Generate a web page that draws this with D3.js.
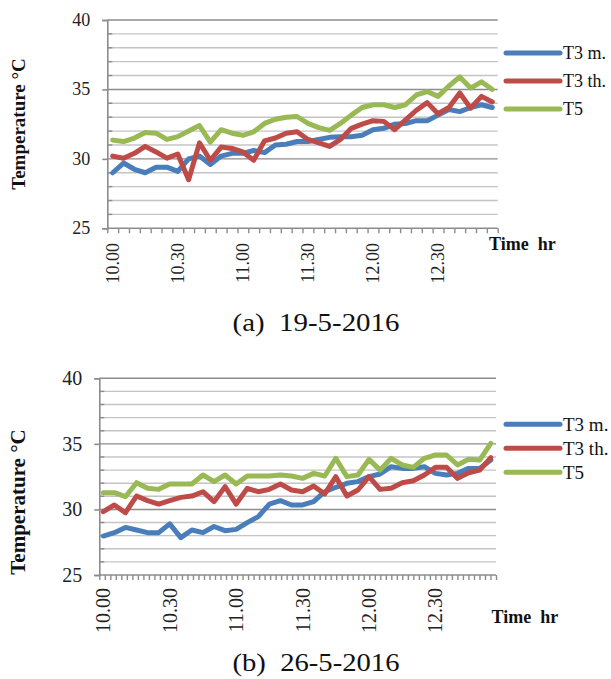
<!DOCTYPE html>
<html>
<head>
<meta charset="utf-8">
<script src="https://cdn.jsdelivr.net/npm/d3@7"></script>
<style>
html,body{margin:0;padding:0;background:#fff;}
svg{display:block;}
</style>
</head>
<body>
<svg id="c" width="611" height="679"></svg>
<script>
// ---------- data ----------
const times = ["10.00","10.05","10.10","10.15","10.20","10.25","10.30","10.35","10.40","10.45","10.50","10.55",
               "11.00","11.05","11.10","11.15","11.20","11.25","11.30","11.35","11.40","11.45","11.50","11.55",
               "12.00","12.05","12.10","12.15","12.20","12.25","12.30","12.35","12.40","12.45","12.50","12.55"];
const shownTimes = ["10.00","10.30","11.00","11.30","12.00","12.30"];
const tempTicks = [25, 30, 35, 40];
const seriesNames = ["T3 m.", "T3 th.", "T5"];
const seriesColors = ["#4A7EBB", "#BE4B48", "#98B954"];

// (a) 19-5-2016
const a_T3m  = [29.0,29.7,29.25,29.0,29.4,29.4,29.1,30.0,30.2,29.6,30.2,30.4,30.4,30.6,30.45,31.0,31.05,31.25,31.25,31.4,31.55,31.6,31.6,31.7,32.1,32.2,32.5,32.55,32.75,32.75,33.15,33.55,33.4,33.7,33.9,33.7];
const a_T3th = [30.2,30.05,30.4,30.9,30.5,30.05,30.35,28.5,31.15,29.9,30.85,30.75,30.5,29.9,31.3,31.5,31.85,31.95,31.4,31.15,30.9,31.4,32.2,32.5,32.75,32.7,32.1,32.8,33.5,34.05,33.25,33.7,34.75,33.65,34.5,34.1];
const a_T5   = [31.35,31.25,31.5,31.9,31.85,31.4,31.6,32.0,32.4,31.2,32.1,31.85,31.7,31.95,32.55,32.85,33.0,33.05,32.55,32.25,32.05,32.55,33.15,33.7,33.9,33.9,33.7,33.9,34.6,34.85,34.5,35.25,35.9,35.1,35.55,35.0];

// (b) 26-5-2016
const b_T3m  = [27.97,28.23,28.63,28.43,28.23,28.23,28.9,27.85,28.43,28.23,28.7,28.38,28.48,28.99,29.45,30.41,30.67,30.34,30.34,30.59,31.35,31.69,31.99,32.12,32.5,32.7,33.26,33.13,33.13,33.26,32.75,32.63,32.75,33.13,33.13,33.77];
const b_T3th = [29.83,30.34,29.75,31.02,30.67,30.41,30.67,30.92,31.02,31.35,30.59,31.74,30.41,31.61,31.35,31.53,31.94,31.48,31.35,31.79,31.18,32.5,31.02,31.48,32.5,31.53,31.61,32.04,32.19,32.63,33.21,33.21,32.37,32.8,33.0,33.95];
const b_T5   = [31.28,31.28,30.97,32.04,31.61,31.53,31.94,31.94,31.94,32.63,32.12,32.63,31.94,32.55,32.55,32.55,32.63,32.55,32.37,32.75,32.55,33.9,32.5,32.63,33.82,33.0,33.9,33.39,33.21,33.9,34.15,34.15,33.39,33.82,33.77,35.04];

const captions = ["(a)  19-5-2016", "(b)  26-5-2016"];
const yTitle = "Temperature °C";
const xTitle = "Time  hr";

// ---------- layout ----------
const panels = [
  {series:[a_T3m,a_T3th,a_T5], caption:captions[0],
   ax0:107.3, ax1:497.7, p0:112.7, p1:492.3, yBot:228.3, yTop:20, nTickIntervals:36,
   fs:18, titleFs:19, titleY:124, legY:53, legStep:28, legFs:18,
   xLabTop:243, timeX:489, timeY:244, capY:331},
  {series:[b_T3m,b_T3th,b_T5], caption:captions[1],
   ax0:99.3, ax1:496, p0:103.3, p1:490.8, yBot:575, yTop:378.3, nTickIntervals:72,
   fs:20, titleFs:21, titleY:502, legY:424.3, legStep:24, legFs:19,
   xLabTop:588, timeX:491.5, timeY:617, capY:671}
];

const svg = d3.select("#c");
const serif = "'Liberation Serif', 'Times New Roman', serif";

panels.forEach(P => {
  const g = svg.append("g");
  const y = d3.scaleLinear().domain([25, 40]).range([P.yBot, P.yTop]);
  const x = d3.scalePoint().domain(times).range([P.p0, P.p1]);
  const xi = d3.scaleLinear().domain([0, times.length - 1]).range([P.p0, P.p1]);

  // gridlines (every degree)
  const minor = d3.range(26, 40).filter(v => v % 5 !== 0);
  g.append("g").selectAll("line").data(minor).join("line")
    .attr("x1", P.ax0).attr("x2", P.ax1)
    .attr("y1", d => y(d)).attr("y2", d => y(d))
    .attr("stroke", "#c4c4c4").attr("stroke-width", 1.4);
  g.append("g").selectAll("line").data(tempTicks.filter(v => v > 25)).join("line")
    .attr("x1", P.ax0).attr("x2", P.ax1)
    .attr("y1", d => y(d)).attr("y2", d => y(d))
    .attr("stroke", "#8c8c8c").attr("stroke-width", 1.4);

  // minor ticks inside the y axis
  g.append("g").selectAll("line").data(minor).join("line")
    .attr("x1", P.ax0).attr("x2", P.ax0 + 5)
    .attr("y1", d => y(d)).attr("y2", d => y(d))
    .attr("stroke", "#8c8c8c").attr("stroke-width", 1.4);

  // y axis
  const yAxis = d3.axisLeft(y).tickValues(tempTicks).tickSize(5).tickFormat("");
  const ya = g.append("g").attr("transform", `translate(${P.ax0},0)`).call(yAxis);
  ya.select(".domain").attr("stroke", "#8c8c8c").attr("stroke-width", 1.6);
  ya.selectAll(".tick line").attr("stroke", "#8c8c8c").attr("stroke-width", 1.6);
  g.append("g").selectAll("text").data(tempTicks).join("text")
    .attr("x", P.ax0 - 17).attr("y", d => y(d))
    .attr("text-anchor", "end").attr("dominant-baseline", "central")
    .attr("font-family", serif).attr("font-size", P.fs).attr("fill", "#222")
    .text(d => d);

  // x axis line + tick marks
  const iStart = xi.invert(P.ax0), iEnd = xi.invert(P.ax1);
  const step = (iEnd - iStart) / P.nTickIntervals;
  const tickIdx = d3.range(P.nTickIntervals + 1).map(k => iStart + k * step);
  const xAxis = d3.axisBottom(xi).tickValues(tickIdx).tickSize(5).tickFormat("");
  const xa = g.append("g").attr("transform", `translate(0,${P.yBot})`).call(xAxis);
  xa.select(".domain").remove();
  xa.selectAll(".tick line").attr("stroke", "#8c8c8c").attr("stroke-width", 1.4);
  g.append("line").attr("x1", P.ax0).attr("x2", P.ax1)
    .attr("y1", P.yBot).attr("y2", P.yBot)
    .attr("stroke", "#8c8c8c").attr("stroke-width", 1.6);

  // x labels (rotated)
  g.append("g").selectAll("text").data(shownTimes).join("text")
    .attr("transform", d => `translate(${x(d)},${P.xLabTop}) rotate(-90)`)
    .attr("text-anchor", "end").attr("dominant-baseline", "central")
    .attr("font-family", serif).attr("font-size", P.fs).attr("fill", "#222")
    .text(d => d);

  // lines
  const line = d3.line().x((d, i) => x(times[i])).y(d => y(d));
  P.series.forEach((s, k) => {
    g.append("path").datum(s).attr("d", line)
      .attr("fill", "none").attr("stroke", seriesColors[k])
      .attr("stroke-width", 5).attr("stroke-linejoin", "round").attr("stroke-linecap", "round");
  });

  // legend
  seriesNames.forEach((n, k) => {
    const ly = P.legY + k * P.legStep;
    g.append("line").attr("x1", 506).attr("x2", 560).attr("y1", ly).attr("y2", ly)
      .attr("stroke", seriesColors[k]).attr("stroke-width", 5).attr("stroke-linecap", "round");
    g.append("text").attr("x", 563).attr("y", ly).attr("dominant-baseline", "central")
      .attr("font-family", serif).attr("font-size", P.legFs).attr("fill", "#111").text(n);
  });

  // axis titles
  g.append("text").attr("transform", `translate(18,${P.titleY}) rotate(-90)`)
    .attr("text-anchor", "middle").attr("dominant-baseline", "central")
    .attr("font-family", serif).attr("font-weight", "bold").attr("font-size", P.titleFs)
    .attr("fill", "#111").text(yTitle);
  g.append("text").attr("x", P.timeX).attr("y", P.timeY).attr("dominant-baseline", "central")
    .attr("font-family", serif).attr("font-weight", "bold").attr("font-size", 18)
    .attr("fill", "#111").style("white-space", "pre").text(xTitle);

  // caption
  g.append("text").attr("x", 316).attr("y", P.capY).attr("text-anchor", "middle")
    .attr("font-family", serif).attr("font-size", 25).attr("fill", "#111")
    .attr("textLength", 167).attr("lengthAdjust", "spacingAndGlyphs")
    .style("white-space", "pre").text(P.caption);
});
</script>
</body>
</html>
